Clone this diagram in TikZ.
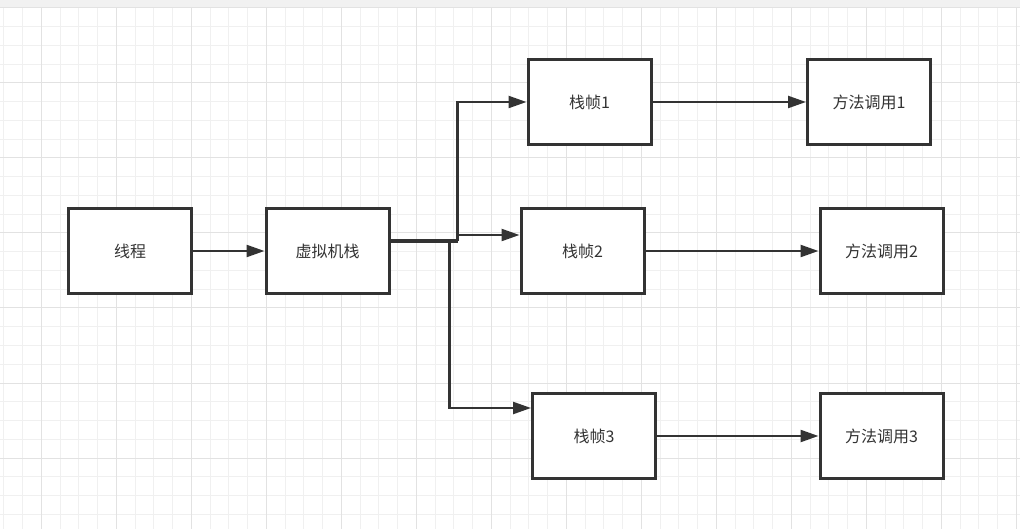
\documentclass[tikz,border=0pt]{standalone}
\usepackage{fontspec}
\setmainfont{Noto Sans CJK SC}
\usetikzlibrary{arrows.meta, positioning, calc}
\definecolor{linegray}{RGB}{51,51,51}
\definecolor{gridminor}{RGB}{240,240,240}
\definecolor{gridmajor}{RGB}{226,226,226}
\definecolor{topbar}{RGB}{241,241,241}

\tikzset{
  box/.style={draw=linegray, line width=3pt, fill=white, inner sep=0pt,
    minimum width=123pt, minimum height=85pt, text=linegray,
    font=\fontsize{16}{19}\selectfont},
  link/.style={draw=linegray, line width=2.3pt, -{Triangle[length=18pt, width=12pt]}},
}

\begin{document}
\begin{tikzpicture}[x=1pt, y=-1pt]
  \useasboundingbox (0,0) rectangle (1020,529);
  % Background grid
  \fill[white] (0,0) rectangle (1020,529);
  \fill[topbar] (0,0) rectangle (1020,8);
  \foreach \i in {0,...,54} \draw[gridminor, line width=1pt] ({3.8+18.75*\i},8) -- ({3.8+18.75*\i},529);
  \foreach \j in {0,...,28} \draw[gridminor, line width=1pt] (0,{8+18.75*\j}) -- (1020,{8+18.75*\j});
  \foreach \i in {0,...,13} \draw[gridmajor, line width=1pt] ({41.3+75*\i},8) -- ({41.3+75*\i},529);
  \foreach \j in {0,...,7} \draw[gridmajor, line width=1pt] (0,{8+75*\j}) -- (1020,{8+75*\j});

  % Boxes
  \node[box] (thread)  at (130,251)   {线程};
  \node[box] (vmstack) at (327.5,251) {虚拟机栈};
  \node[box] (frame1)  at (589.5,102) {栈帧1};
  \node[box] (frame2)  at (582.5,251) {栈帧2};
  \node[box] (frame3)  at (594,436)   {栈帧3};
  \node[box] (call1)   at (869,102)   {方法调用1};
  \node[box] (call2)   at (881.5,251) {方法调用2};
  \node[box] (call3)   at (881.5,436) {方法调用3};

  % Connectors
  \coordinate (split)    at (457.5,241);
  \coordinate (splitlow) at (449.5,241);
  \draw[link] (thread) -- (vmstack);
  \draw[linegray, line width=3.3pt] (vmstack.east |- split) -- (split);
  \draw[link] (split) |- (frame1.west);
  \draw[link] (split) |- ([yshift=16pt]frame2.west);
  \draw[link] (splitlow) |- ([yshift=28pt]frame3.west);
  \draw[link] (frame1) -- (call1);
  \draw[link] (frame2) -- (call2);
  \draw[link] (frame3) -- (call3);
\end{tikzpicture}
\end{document}
